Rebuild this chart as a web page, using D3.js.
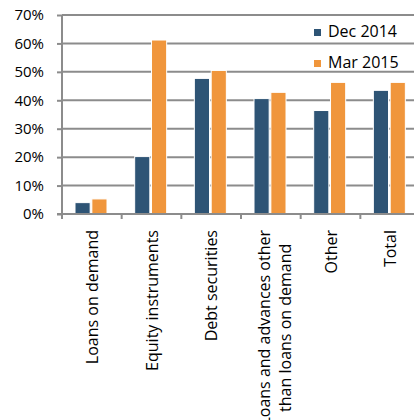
<!DOCTYPE html>
<html>
  <head>
    <script src="https://d3js.org/d3.v7.min.js"></script>
    <style>
      body { margin: 0; background: #fff; }
      text { font-family: "Open Sans", sans-serif; fill: #000; }
    </style>
  </head>
  <body>
    <script type="text/javascript">
      var categories = ["Loans on demand", "Equity instruments", "Debt securities",
                        "Loans and advances other than loans on demand", "Other", "Total"];
      var categoryLines = [["Loans on demand"], ["Equity instruments"], ["Debt securities"],
                           ["Loans and advances other", "than loans on demand"], ["Other"], ["Total"]];
      var series = ["Dec 2014", "Mar 2015"];
      var dec2014 = [4.0, 20.2, 47.7, 40.6, 36.4, 43.5];
      var mar2015 = [5.3, 61.2, 50.5, 42.8, 46.3, 46.3];
      var yTicks = [0, 10, 20, 30, 40, 50, 60, 70];
      var colors = ["#2E5475", "#F0963C"];

      var w = 414, h = 420;
      var mLeft = 62, mTop = 15, mBottom = 214, mRight = 414;

      var y = d3.scaleLinear().domain([0, 70]).range([mBottom, mTop]);
      var x = d3.scaleBand().domain(categories).range([mLeft, mLeft + 6 * 59.67]);
      var x1 = d3.scaleBand().domain(series).range([13, 45]).paddingInner(0.1);
      var color = d3.scaleOrdinal().domain(series).range(colors);

      var svg = d3.select("body").append("svg")
        .attr("width", w)
        .attr("height", h);

//gridlines
      svg.append("g").selectAll("line").data(yTicks.slice(1)).enter().append("line")
        .attr("x1", mLeft).attr("x2", mRight)
        .attr("y1", d => y(d)).attr("y2", d => y(d))
        .attr("stroke", "#8C8C8C")
        .attr("stroke-width", 2);

//bars
      var rows = categories.map((c, i) => ({cat: c, vals: [dec2014[i], mar2015[i]]}));
      var groups = svg.append("g").selectAll("g").data(rows).enter().append("g")
        .attr("transform", d => "translate(" + x(d.cat) + ",0)");

      groups.selectAll("rect").data(d => d.vals.map((v, j) => ({s: series[j], v: v})))
        .enter().append("rect")
        .attr("x", d => x1(d.s))
        .attr("y", d => y(d.v))
        .attr("width", x1.bandwidth())
        .attr("height", d => y(0) - y(d.v))
        .attr("fill", d => color(d.s))
        .attr("stroke", "#fff")
        .attr("stroke-width", 1);

//y axis
      var yAxis = d3.axisLeft(y).tickValues(yTicks)
        .tickFormat(d => d + "%").tickSize(5).tickPadding(13);
      var ga = svg.append("g")
        .attr("transform", "translate(" + mLeft + ",0)")
        .call(yAxis);
      ga.select(".domain").attr("stroke", "#8C8C8C").attr("stroke-width", 2)
        .attr("d", "M0," + mTop + "V" + mBottom);
      ga.selectAll(".tick line").attr("stroke", "#8C8C8C").attr("stroke-width", 2);
      ga.selectAll(".tick text").attr("font-size", 15).attr("fill", "#000")
        .attr("font-family", "'Open Sans', sans-serif");

//x axis line + ticks at band edges
      svg.append("line")
        .attr("x1", mLeft - 5).attr("x2", mRight)
        .attr("y1", mBottom).attr("y2", mBottom)
        .attr("stroke", "#8C8C8C").attr("stroke-width", 2);
      svg.append("g").selectAll("line").data(categories).enter().append("line")
        .attr("x1", d => x(d)).attr("x2", d => x(d))
        .attr("y1", mBottom).attr("y2", mBottom + 5)
        .attr("stroke", "#8C8C8C").attr("stroke-width", 2);

//category labels
      var labelTop = 230;
      var lab = svg.append("g").selectAll("g").data(categories).enter().append("g")
        .attr("transform", d => "translate(" + (x(d) + x.bandwidth() / 2) + "," + labelTop + ") rotate(-90)");

      lab.each(function(d, i) {
        var lines = categoryLines[i];
        var g = d3.select(this);
        if (lines.length == 1) {
          g.append("text")
            .attr("x", 0).attr("y", 6)
            .attr("text-anchor", "end")
            .attr("font-size", 16)
            .text(lines[0]);
        } else {
          var ts = lines.map((l, k) => g.append("text")
            .attr("y", -1 + k * 21)
            .attr("text-anchor", "middle")
            .attr("font-size", 16)
            .text(l));
          var wmax = d3.max(ts, t => t.node().getComputedTextLength());
          ts.forEach(t => t.attr("x", -wmax / 2));
        }
      });

//legend
      var leg = svg.append("g").selectAll("g").data(series).enter().append("g")
        .attr("transform", (d, i) => "translate(314," + (29 + i * 31) + ")");
      leg.append("rect")
        .attr("width", 7).attr("height", 7)
        .attr("fill", d => color(d));
      leg.append("text")
        .attr("x", 14).attr("y", 8)
        .attr("font-size", 16)
        .text(d => d);
    </script>
  </body>
</html>
